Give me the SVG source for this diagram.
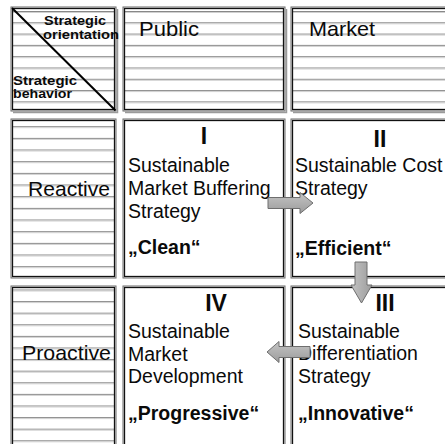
<svg xmlns="http://www.w3.org/2000/svg" width="445" height="444" viewBox="0 0 445 444">
<defs>
<style>
.bg{fill:#fff}
.rule{stroke:#888;stroke-width:1;fill:none}
.rule2{stroke:#d0d0d0;stroke-width:1;fill:none}
.outer{fill:none;stroke:#6a6a6a;stroke-width:1}
.inner{fill:none;stroke:#111;stroke-width:1.3}
.shadow{fill:none;stroke:#9a9a9a;stroke-width:1.5}
text{font-family:"Liberation Sans",Arial,sans-serif;fill:#0a0a0a}
.hd{font-size:21px}
.ct{font-size:19.5px}
.bd{font-weight:bold}
.num{font-size:23px;font-weight:bold;text-anchor:middle}
.sm{font-size:13.5px;font-weight:bold}
.arrow{stroke:#6e6e6e;stroke-width:1;stroke-linejoin:miter}
</style>
<linearGradient id="gh" x1="0" y1="0" x2="0" y2="1">
<stop offset="0" stop-color="#c4c4c4"/>
<stop offset="1" stop-color="#9c9c9c"/>
</linearGradient>
<linearGradient id="gv" x1="0" y1="0" x2="1" y2="0">
<stop offset="0" stop-color="#c4c4c4"/>
<stop offset="1" stop-color="#9c9c9c"/>
</linearGradient>
</defs>
<rect x="0" y="0" width="445" height="444" class="bg"/>

<g id="header-corner">
<path class="rule" d="M13 11.5H114M13 22.8H114M13 34.1H114M13 45.4H114M13 56.7H114M13 68H114M13 79.3H114M13 90.6H114M13 101.9H114"/>
<path class="rule2" d="M13 12.5H114M13 23.8H114M13 35.1H114M13 46.4H114M13 57.7H114M13 69H114M13 80.3H114M13 91.6H114M13 102.9H114"/>
<path class="shadow" d="M117.5 9V112.5H13"/>
<rect class="outer" x="11" y="7" width="105" height="104"/>
<rect class="inner" x="12.5" y="8.5" width="102" height="101"/>
<line x1="12" y1="8" x2="115.5" y2="110.5" stroke="#000" stroke-width="2"/>
<text class="sm"><tspan x="44" y="25" textLength="62" lengthAdjust="spacingAndGlyphs">Strategic</tspan><tspan x="43" y="38.5" textLength="76" lengthAdjust="spacingAndGlyphs">orientation</tspan></text>
<text class="sm"><tspan x="13" y="84.5" textLength="64" lengthAdjust="spacingAndGlyphs">Strategic</tspan><tspan x="13" y="98" textLength="59" lengthAdjust="spacingAndGlyphs">behavior</tspan></text>
</g>

<g id="header-public">
<path class="rule" d="M125 11.5H283M125 22.8H283M125 34.1H283M125 45.4H283M125 56.7H283M125 68H283M125 79.3H283M125 90.6H283M125 101.9H283"/>
<path class="rule2" d="M125 12.5H283M125 23.8H283M125 35.1H283M125 46.4H283M125 57.7H283M125 69H283M125 80.3H283M125 91.6H283M125 102.9H283"/>
<path class="shadow" d="M286.5 9V112.5H125"/>
<rect class="outer" x="123" y="7" width="162" height="104"/>
<rect class="inner" x="124.5" y="8.5" width="159" height="101"/>
<text class="hd" x="139" y="36" textLength="60" lengthAdjust="spacingAndGlyphs">Public</text>
</g>

<g id="header-market">
<path class="rule" d="M293 11.5H445M293 22.8H445M293 34.1H445M293 45.4H445M293 56.7H445M293 68H445M293 79.3H445M293 90.6H445M293 101.9H445"/>
<path class="rule2" d="M293 12.5H445M293 23.8H445M293 35.1H445M293 46.4H445M293 57.7H445M293 69H445M293 80.3H445M293 91.6H445M293 102.9H445"/>
<path class="shadow" d="M293 112.5H450"/>
<rect class="outer" x="291" y="7" width="170" height="104"/>
<rect class="inner" x="292.5" y="8.5" width="167" height="101"/>
<text class="hd" x="309" y="36" textLength="66" lengthAdjust="spacingAndGlyphs">Market</text>
</g>

<g id="label-reactive">
<path class="rule" d="M13 126.7H114M13 138.4H114M13 150H114M13 161.7H114M13 173.4H114M13 185H114M13 196.7H114M13 208.4H114M13 220H114M13 231.7H114M13 243.4H114M13 255H114M13 266.7H114"/>
<path class="rule2" d="M13 127.7H114M13 139.4H114M13 151H114M13 162.7H114M13 174.4H114M13 186H114M13 197.7H114M13 209.4H114M13 221H114M13 232.7H114M13 244.4H114M13 256H114M13 267.7H114"/>
<rect class="outer" x="11" y="119" width="105" height="159"/>
<rect class="inner" x="12.5" y="120.5" width="102" height="156"/>
<text class="hd" x="110" y="196" text-anchor="end" textLength="82" lengthAdjust="spacingAndGlyphs">Reactive</text>
</g>

<g id="quadrant-1">
<rect class="outer" x="123" y="119" width="162" height="159"/>
<rect class="inner" x="124.5" y="120.5" width="159" height="156"/>
<text class="num" x="204" y="144">I</text>
<text class="ct" x="128" y="172">Sustainable</text>
<text class="ct" x="128" y="195">Market Buffering</text>
<text class="ct" x="128" y="218">Strategy</text>
<text class="ct bd" x="128" y="253.5">„Clean“</text>
</g>

<g id="quadrant-2">
<rect class="outer" x="291" y="119" width="170" height="159"/>
<rect class="inner" x="292.5" y="120.5" width="167" height="156"/>
<text class="num" x="380" y="147">II</text>
<text class="ct" x="295" y="172">Sustainable Cost</text>
<text class="ct" x="295" y="195">Strategy</text>
<text class="ct bd" x="295" y="255">„Efficient“</text>
</g>

<g id="label-proactive">
<path class="rule" d="M13 290H114M13 301.6H114M13 313.2H114M13 324.8H114M13 336.4H114M13 348H114M13 359.6H114M13 371.2H114M13 382.8H114M13 394.4H114M13 406H114M13 417.6H114M13 429.2H114M13 440.8H114"/>
<path class="rule2" d="M13 291H114M13 302.6H114M13 314.2H114M13 325.8H114M13 337.4H114M13 349H114M13 360.6H114M13 372.2H114M13 383.8H114M13 395.4H114M13 407H114M13 418.6H114M13 430.2H114M13 441.8H114"/>
<rect class="outer" x="11" y="286" width="105" height="170"/>
<rect class="inner" x="12.5" y="287.5" width="102" height="167"/>
<text class="hd" x="111" y="360" text-anchor="end" textLength="89" lengthAdjust="spacingAndGlyphs">Proactive</text>
</g>

<g id="quadrant-4">
<rect class="outer" x="123" y="286" width="162" height="170"/>
<rect class="inner" x="124.5" y="287.5" width="159" height="167"/>
<text class="num" x="216" y="311">IV</text>
<text class="ct" x="128" y="338">Sustainable</text>
<text class="ct" x="128" y="360.5">Market</text>
<text class="ct" x="128" y="383">Development</text>
<text class="ct bd" x="128" y="420">„Progressive“</text>
</g>

<g id="quadrant-3">
<rect class="outer" x="291" y="286" width="170" height="170"/>
<rect class="inner" x="292.5" y="287.5" width="167" height="167"/>
<text class="num" x="385" y="311">III</text>
<text class="ct" x="298" y="337.5">Sustainable</text>
<text class="ct" x="298" y="360">Differentiation</text>
<text class="ct" x="298" y="382.5">Strategy</text>
<text class="ct bd" x="298" y="420">„Innovative“</text>
</g>

<g id="connectors">
<polygon class="arrow" fill="url(#gh)" points="268,197.5 300,197.5 300,192.5 313,203 300,213.5 300,208.5 268,208.5"/>
<polygon class="arrow" fill="url(#gv)" points="355,262 367,262 367,285 372,285 361.5,303 351,285 355,285"/>
<polygon class="arrow" fill="url(#gh)" points="310,346.5 279,346.5 279,341.5 267,352 279,362.5 279,357.5 310,357.5"/>
</g>
</svg>
